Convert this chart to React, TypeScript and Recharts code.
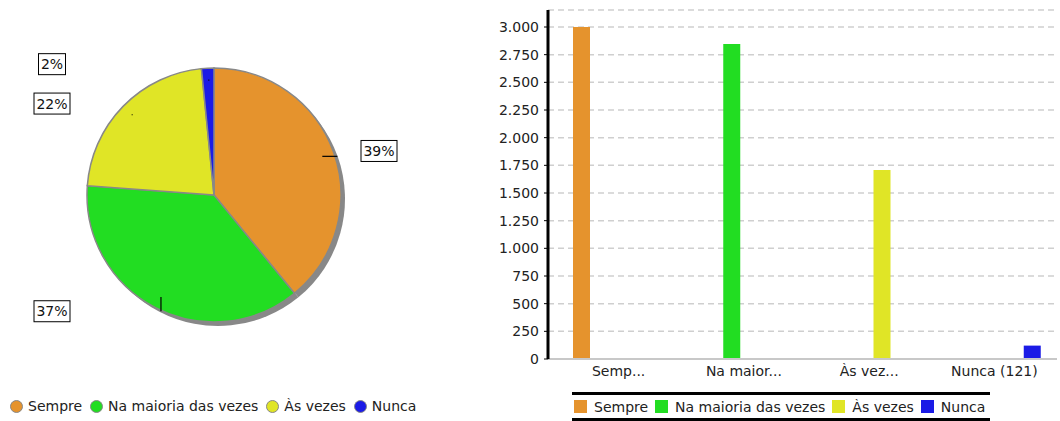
import { PieChart, Pie, Cell, BarChart, Bar, XAxis, YAxis, CartesianGrid } from "recharts"

const categories = ["Sempre", "Na maioria das vezes", "Às vezes", "Nunca"]
const counts = [3000, 2846, 1708, 121]
const axisLabels = ["Semp...", "Na maior...", "Às vez...", "Nunca (121)"]
const colors = ["#E5932D", "#22DD22", "#E0E526", "#1B1BE6"]
const yTicks = [0, 250, 500, 750, 1000, 1250, 1500, 1750, 2000, 2250, 2500, 2750, 3000]

const FONT = "'DejaVu Sans', sans-serif"

const pieData = categories.map((name, i) => ({ name, value: counts[i] }))

// one row per category, only the matching series holds a value
const barData = axisLabels.map((label, i) => {
  const row: Record<string, string | number | null> = { label }
  categories.forEach((_, j) => {
    row[`s${j}`] = i === j ? counts[i] : null
  })
  return row
})

const fmt = (v: number) => String(v).replace(/\B(?=(\d{3})+(?!\d))/g, ".")

const renderPieLabel = (props: any) => {
  const { cx, cy, midAngle, outerRadius, percent } = props
  const rad = Math.PI / 180
  const cos = Math.cos(midAngle * rad)
  const sin = Math.sin(midAngle * rad)
  const text = `${Math.round(percent * 100)}%`
  const w = text.length * 9 + 9
  const lx = cos >= 0 ? cx + outerRadius + 38 : cx - outerRadius - 35
  const ly = cy - (outerRadius + 4) * sin
  const ix = cx + (outerRadius - 12) * cos
  const iy = cy - (outerRadius - 12) * sin
  let ex = ix + 1
  let ey = iy
  if (cos > 0.5) ex = cx + (outerRadius + 4) * cos
  else if (sin < -0.5) {
    ex = ix
    ey = cy - (outerRadius + 4) * sin
  }
  return (
    <g>
      <line x1={ix} y1={iy} x2={ex} y2={ey} stroke="#000" strokeWidth={1.2} />
      <rect x={lx - w / 2} y={ly - 10.5} width={w} height={21} fill="#fff" stroke="#000" strokeWidth={1} />
      <text x={lx} y={ly} textAnchor="middle" dominantBaseline="central" fontSize={14} fontFamily={FONT} fill="#111">
        {text}
      </text>
    </g>
  )
}

export default function App() {
  return (
    <div style={{ position: "absolute", left: 0, top: 0, width: 1060, height: 421, background: "#fff", fontFamily: FONT }}>
      <div style={{ position: "absolute", left: 0, top: 0 }}>
        <PieChart width={490} height={421} margin={{ top: 0, right: 0, bottom: 0, left: 0 }}>
          <Pie
            data={pieData}
            dataKey="value"
            nameKey="name"
            cx={218}
            cy={199}
            outerRadius={127}
            startAngle={90}
            endAngle={-270}
            stroke="none"
            isAnimationActive={false}
          >
            {pieData.map((_, i) => (
              <Cell key={`sh-${i}`} fill="#888" />
            ))}
          </Pie>
          <Pie
            data={pieData}
            dataKey="value"
            nameKey="name"
            cx={214}
            cy={195}
            outerRadius={127}
            startAngle={90}
            endAngle={-270}
            stroke="#888"
            strokeWidth={1.5}
            label={renderPieLabel}
            labelLine={false}
            isAnimationActive={false}
          >
            {pieData.map((_, i) => (
              <Cell key={`cell-${i}`} fill={colors[i]} />
            ))}
          </Pie>
        </PieChart>
        <div style={{ position: "absolute", left: 10, top: 398, display: "flex", alignItems: "center", fontSize: 14, color: "#222", whiteSpace: "nowrap" }}>
          {categories.map((c, i) => (
            <span key={c} style={{ display: "flex", alignItems: "center", marginRight: 8 }}>
              <span style={{ width: 11, height: 11, borderRadius: "50%", background: colors[i], border: "1px solid #888", marginRight: 5 }} />
              {c}
            </span>
          ))}
        </div>
      </div>

      <div style={{ position: "absolute", left: 490, top: 0 }}>
        <BarChart width={570} height={421} data={barData} margin={{ top: 10, right: 3, left: 0, bottom: 32 }} barSize={17} barGap={8}>
          <CartesianGrid vertical={false} stroke="#cfcfcf" strokeWidth={1.5} strokeDasharray="6 4" />
          <XAxis
            dataKey="label"
            height={30}
            padding={{ left: 8, right: 0 }}
            tickLine={false}
            tickSize={0}
            tickMargin={7}
            axisLine={{ stroke: "#c8c8c8", strokeWidth: 2 }}
            tick={{ fontSize: 14, fill: "#222", fontFamily: FONT }}
            interval={0}
          />
          <YAxis
            width={58}
            domain={[0, 3000]}
            ticks={yTicks}
            interval={0}
            padding={{ top: 17, bottom: 0 }}
            tickFormatter={fmt}
            tickSize={4}
            tickMargin={5}
            tickLine={{ stroke: "#000" }}
            axisLine={{ stroke: "#000", strokeWidth: 3 }}
            tick={{ fontSize: 14, fill: "#222", fontFamily: FONT }}
          />
          {categories.map((c, j) => (
            <Bar key={c} dataKey={`s${j}`} name={c} fill={colors[j]} isAnimationActive={false} />
          ))}
        </BarChart>
        <div style={{ position: "absolute", left: 82, top: 392, width: 418, height: 23, borderTop: "3px solid #000", borderBottom: "3px solid #000", display: "flex", alignItems: "center", fontSize: 14, color: "#222", whiteSpace: "nowrap" }}>
          {categories.map((c, i) => (
            <span key={c} style={{ display: "flex", alignItems: "center", marginLeft: i === 0 ? 2 : 7 }}>
              <span style={{ width: 13, height: 13, background: colors[i], marginRight: 7 }} />
              {c}
            </span>
          ))}
        </div>
      </div>
    </div>
  )
}
